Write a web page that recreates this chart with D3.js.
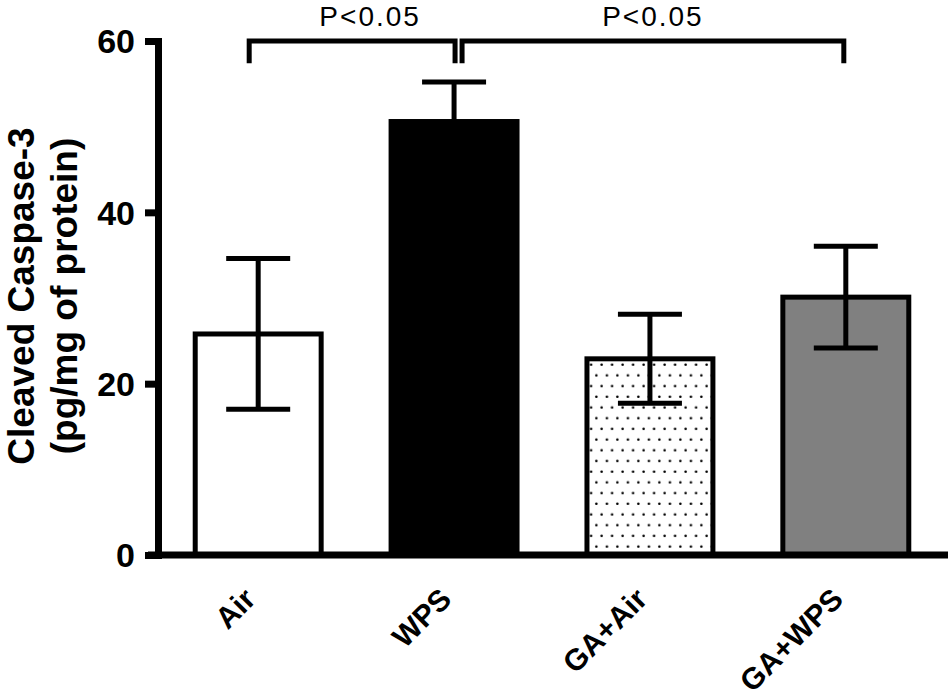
<!DOCTYPE html>
<html>
<head>
<meta charset="utf-8">
<script src="https://cdn.jsdelivr.net/npm/d3@7"></script>
<style>
  body { margin: 0; background: #fff; }
  svg { display: block; font-family: "Liberation Sans", Arial, sans-serif; }
</style>
</head>
<body>
<div id="wrapper"></div>
<script>
// Values.
const groups = ["Air", "WPS", "GA+Air", "GA+WPS"]
const means = [25.8, 50.6, 22.9, 30.1]
const errors = [8.8, 4.6, 5.2, 5.95]
const yTicks = [0, 20, 40, 60]
const bracketPairs = [["Air", "WPS"], ["WPS", "GA+WPS"]]
const bracketLabels = ["P<0.05", "P<0.05"]
const yLabelLines = ["Cleaved Caspase-3", "(pg/mg of protein)"]

const dimensions = {
  width: 950,
  height: 700,
  margin: { top: 41, right: 4, bottom: 145, left: 158 },
}
dimensions.boundedWidth = dimensions.width
  - dimensions.margin.left
  - dimensions.margin.right
dimensions.boundedHeight = dimensions.height
  - dimensions.margin.top
  - dimensions.margin.bottom

function drawBarChart() {
  const svg = d3.select("#wrapper")
    .append("svg")
      .attr("width", dimensions.width)
      .attr("height", dimensions.height)

  // Dotted fill for the GA+Air bar.
  const pattern = svg.append("defs").append("pattern")
      .attr("id", "dots")
      .attr("patternUnits", "userSpaceOnUse")
      .attr("width", 10.5)
      .attr("height", 21.4)
  pattern.append("rect")
      .attr("width", 10.5).attr("height", 21.4).attr("fill", "#fff")
  pattern.selectAll("circle")
    .data([[2.6, 2.7], [7.9, 13.4]])
    .join("circle")
      .attr("cx", d => d[0])
      .attr("cy", d => d[1])
      .attr("r", 1.3)
      .attr("fill", "#000")

  const fills = ["#ffffff", "#000000", "url(#dots)", "#808080"]

  const bounds = svg.append("g")
      .attr("transform", `translate(${dimensions.margin.left},${dimensions.margin.top})`)

  const yScale = d3.scaleLinear()
    .domain([0, 60])
    .range([dimensions.boundedHeight, 0])

  const xScale = d3.scaleBand()
    .domain(groups)
    .range([0, dimensions.boundedWidth])
    .paddingInner(0.357)
    .paddingOuter(0.19)

  const cx = g => xScale(g) + xScale.bandwidth() / 2

  // Bars
  bounds.selectAll(".bar")
    .data(groups)
    .join("rect")
      .attr("class", "bar")
      .attr("x", d => xScale(d))
      .attr("width", xScale.bandwidth())
      .attr("y", (d, i) => yScale(means[i]))
      .attr("height", (d, i) => yScale(0) - yScale(means[i]))
      .attr("fill", (d, i) => fills[i])
      .attr("stroke", "#000")
      .attr("stroke-width", 5)

  // Error bars
  const capHalf = 32
  const err = bounds.selectAll(".err")
    .data(groups)
    .join("g")
      .attr("class", "err")
      .attr("stroke", "#000")
      .attr("stroke-width", 5)
  err.append("line")
      .attr("x1", d => cx(d)).attr("x2", d => cx(d))
      .attr("y1", (d, i) => yScale(means[i] - errors[i]))
      .attr("y2", (d, i) => yScale(means[i] + errors[i]))
  err.append("line")
      .attr("x1", d => cx(d) - capHalf).attr("x2", d => cx(d) + capHalf)
      .attr("y1", (d, i) => yScale(means[i] + errors[i]))
      .attr("y2", (d, i) => yScale(means[i] + errors[i]))
  err.append("line")
      .attr("x1", d => cx(d) - capHalf).attr("x2", d => cx(d) + capHalf)
      .attr("y1", (d, i) => yScale(means[i] - errors[i]))
      .attr("y2", (d, i) => yScale(means[i] - errors[i]))

  // Y axis
  const yAxis = bounds.append("g")
    .call(d3.axisLeft(yScale)
      .tickValues(yTicks)
      .tickSize(13)
      .tickSizeOuter(0)
      .tickPadding(10))
  yAxis.select(".domain")
      .attr("stroke-width", 7)
      .attr("stroke-linecap", "square")
  yAxis.selectAll(".tick line").attr("stroke-width", 7)
  yAxis.selectAll(".tick text")
      .attr("font-family", "'Liberation Sans', Arial, sans-serif")
      .attr("font-size", 34)
      .attr("font-weight", "bold")
      .attr("fill", "#000")
      .attr("dy", "0.35em")

  // X axis
  const xAxis = bounds.append("g")
      .attr("transform", `translate(0,${dimensions.boundedHeight})`)
    .call(d3.axisBottom(xScale).tickSize(0).tickSizeOuter(0))
  xAxis.select(".domain")
      .attr("stroke-width", 7)
      .attr("d", `M-10,0H${dimensions.boundedWidth + 2}`)
  xAxis.selectAll(".tick text")
      .attr("font-family", "'Liberation Sans', Arial, sans-serif")
      .attr("font-size", 30)
      .attr("font-weight", "bold")
      .attr("fill", "#000")
      .attr("text-anchor", "end")
      .attr("y", 0)
      .attr("dy", 0)
      .attr("transform", "translate(-1,46) rotate(-45)")

  // Y label
  const yLabel = svg.append("text")
      .attr("transform", "translate(0,296) rotate(-90)")
      .attr("text-anchor", "middle")
      .attr("font-size", 37)
      .attr("font-weight", "bold")
  yLabel.selectAll("tspan")
    .data(yLabelLines)
    .join("tspan")
      .attr("x", 0)
      .attr("y", (d, i) => 34 + i * 43)
      .text(d => d)

  // Significance brackets
  const brackets = bounds.selectAll(".bracket")
    .data(bracketPairs)
    .join("g")
      .attr("class", "bracket")
  const bx1 = (d, i) => cx(d[0]) + (i === 1 ? 8 : -9)
  const bx2 = (d, i) => cx(d[1]) + (i === 0 ? 1 : -2)
  brackets.append("path")
      .attr("fill", "none")
      .attr("stroke", "#000")
      .attr("stroke-width", 5)
      .attr("d", (d, i) => `M${bx1(d, i)},${yScale(57.4)}V${yScale(60)}H${bx2(d, i)}V${yScale(57.4)}`)
  brackets.append("text")
      .attr("x", (d, i) => (bx1(d, i) + bx2(d, i)) / 2 + (i === 0 ? 18 : 0))
      .attr("y", yScale(61.8))
      .attr("text-anchor", "middle")
      .attr("font-size", 28)
      .attr("letter-spacing", 2)
      .text((d, i) => bracketLabels[i])
}

drawBarChart()
</script>
</body>
</html>
